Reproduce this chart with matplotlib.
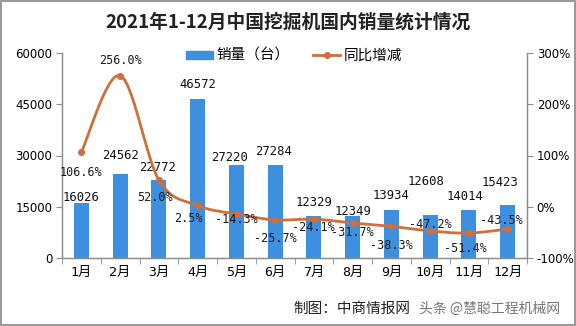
import numpy as np
import matplotlib
matplotlib.use("Agg")
import matplotlib.pyplot as plt
from matplotlib.patches import Rectangle
from matplotlib.lines import Line2D

plt.rcParams['font.family'] = ['DejaVu Sans', 'Noto Sans CJK SC']

# ---- data ----
months = ["1月", "2月", "3月", "4月", "5月", "6月", "7月", "8月", "9月", "10月", "11月", "12月"]
sales = [16026, 24562, 22772, 46572, 27220, 27284, 12329, 12349, 13934, 12608, 14014, 15423]
yoy = [106.6, 256.0, 52.0, 2.5, -14.3, -25.7, -24.1, -31.7, -38.3, -47.2, -51.4, -43.5]
left_ticks = [0, 15000, 30000, 45000, 60000]
right_ticks = [-100, 0, 100, 200, 300]

# label offsets in pixels (dx, dy), dy positive = up
sales_off = [(0, 6), (0, 19), (-1, 13), (0, 14), (-7, 7), (-2, 13),
             (0, 13), (0, 4), (0, 15), (-4, 33), (-4, 14), (-8, 23)]
yoy_off = [(0, -20), (0, 15), (-4, -17), (-9, -13), (0, -5), (0, -19),
           (0, -8), (0, -10), (0, -19), (0, 6), (-4, -15), (-6, 9)]

BLUE = "#3d8fdf"
ORANGE = "#cf6f3c"
GREY = "#8c8c8c"
MONO = ['DejaVu Sans Mono', 'Noto Sans CJK SC']

fig = plt.figure(figsize=(5.76, 3.26), dpi=100)
fig.patch.set_facecolor("white")
fig.patch.set_edgecolor("#9a9a9a")
fig.patch.set_linewidth(1.5)

ax = fig.add_axes([62 / 576, 1 - 258 / 326, 465 / 576, 205 / 326])
ax2 = ax.twinx()

x = np.arange(len(months))
ax.bar(x, sales, width=0.39, color=BLUE, zorder=2)
ax.set_xlim(-0.5, len(months) - 0.5)
ax.set_ylim(0, 60000)
ax.set_yticks(left_ticks)
ax.set_yticklabels([str(v) for v in left_ticks])
ax.set_xticks(x)
ax.set_xticklabels(months, family=MONO, fontsize=9.5)
ax.set_xticks(np.arange(-0.5, len(months)), minor=True)
ax.tick_params(axis='x', which='major', length=0, pad=6)
ax.tick_params(axis='x', which='minor', length=4, color=GREY, direction='out')
ax.tick_params(axis='y', length=4, color=GREY, labelsize=8.5, pad=3)

for s in ["top"]:
    ax.spines[s].set_visible(False)
    ax2.spines[s].set_visible(False)
for a in (ax, ax2):
    for s in ["left", "right", "bottom"]:
        a.spines[s].set_color(GREY)
        a.spines[s].set_linewidth(0.9)

for i, v in enumerate(sales):
    dx, dy = sales_off[i]
    ax.annotate(str(v), (x[i], v), xytext=(dx, dy), textcoords='offset pixels',
                ha='center', va='center', fontsize=8.8, family=MONO, color="#111111", zorder=5)

# smoothed line (Catmull-Rom style Bezier segments through each point)
yv = np.array(yoy, dtype=float)
xs, ys = [], []
t = np.linspace(0, 1, 30)
n = len(yv)
for i in range(n - 1):
    p0 = np.array([x[i - 1] if i > 0 else x[i], yv[i - 1] if i > 0 else yv[i]])
    p1 = np.array([x[i], yv[i]])
    p2 = np.array([x[i + 1], yv[i + 1]])
    p3 = np.array([x[i + 2] if i + 2 < n else x[i + 1], yv[i + 2] if i + 2 < n else yv[i + 1]])
    c1 = p1 + (p2 - p0) / 6
    c2 = p2 - (p3 - p1) / 6
    for k in (0, 1):
        pts = ((1 - t) ** 3) * p1[k] + 3 * ((1 - t) ** 2) * t * c1[k] + 3 * (1 - t) * t ** 2 * c2[k] + t ** 3 * p2[k]
        (xs if k == 0 else ys).append(pts if i == 0 else pts[1:])
xs = np.concatenate(xs)
ys = np.concatenate(ys)
ax2.plot(xs, ys, color=ORANGE, lw=2.0, zorder=3, solid_capstyle='round')
ax2.plot(x, yv, 'o', color=ORANGE, ms=4, zorder=4)
ax2.set_ylim(-100, 300)
ax2.set_yticks(right_ticks)
ax2.set_yticklabels([f"{v}%" for v in right_ticks])
ax2.tick_params(axis='y', length=4, color=GREY, labelsize=8.5, pad=3)

for i, v in enumerate(yoy):
    dx, dy = yoy_off[i]
    ax2.annotate(f"{v:.1f}%", (x[i], v), xytext=(dx, dy), textcoords='offset pixels',
                 ha='center', va='center', fontsize=8.5, family=MONO, color="#1a1a1a", zorder=6)

fig.text(0.5, 1 - 22 / 326, "2021年1-12月中国挖掘机国内销量统计情况", ha='center', va='center',
         fontsize=13.5, fontweight='bold', family=['Noto Sans CJK SC'], color="#222222")

handles = [Rectangle((0, 0), 1, 1, color=BLUE),
           Line2D([0], [0], color=ORANGE, lw=2.0, marker='o', ms=4)]
fig.legend(handles, ["销量（台）", "同比增减"], loc='center', bbox_to_anchor=(0.51, 1 - 56 / 326),
           ncol=2, frameon=False, prop={'family': 'Noto Sans CJK SC', 'size': 10.5},
           handlelength=1.9, handleheight=0.5, columnspacing=1.6, handletextpad=0.2)

fig.text(352 / 576, 1 - 309 / 326, "制图：中商情报网", ha='center', va='center',
         fontsize=10.5, family=['Noto Sans CJK SC'], color="#222222")
fig.text(490 / 576, 1 - 309 / 326, "头条 @慧聪工程机械网", ha='center', va='center',
         fontsize=10, family=['Noto Sans CJK SC'], color="#555555", alpha=0.8)

fig.savefig("out.png", dpi=100, facecolor=fig.get_facecolor(), edgecolor=fig.get_edgecolor())
